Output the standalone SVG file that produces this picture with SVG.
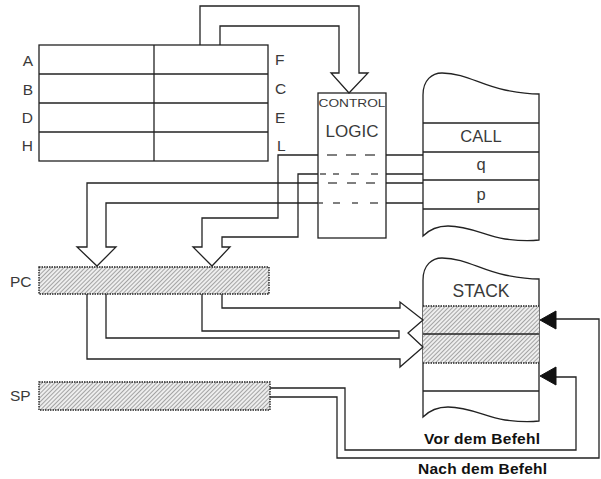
<svg xmlns="http://www.w3.org/2000/svg" width="601" height="479" viewBox="0 0 601 479">
<defs>
<pattern id="hatch" patternUnits="userSpaceOnUse" width="3" height="3" patternTransform="rotate(45)">
<rect width="3" height="3" fill="#eeeeee"/>
<line x1="0" y1="0" x2="0" y2="3" stroke="#666" stroke-width="1.1"/>
</pattern>
</defs>
<style>
.ln{fill:none;stroke:#222;stroke-width:1.3}
.box{fill:#fff;stroke:#222;stroke-width:1.3}
.hb{fill:url(#hatch);stroke:#222;stroke-width:1.4;stroke-dasharray:1.5 1}
.dot{fill:none;stroke:#222;stroke-width:1.4;stroke-dasharray:1.5 1}
.dash{fill:none;stroke:#555;stroke-width:1.3}
.t{font-family:"Liberation Sans",Arial,sans-serif;fill:#3a3a3a}
.b{font-family:"Liberation Sans",Arial,sans-serif;font-weight:bold;fill:#111;font-size:15.5px}
.tri{fill:#111;stroke:#111;stroke-width:1}
</style>
<rect width="601" height="479" fill="#fff"/>

<g id="registers">
<rect class="box" x="39" y="45" width="229" height="116"/>
<line class="ln" x1="39" y1="74" x2="268" y2="74"/>
<line class="ln" x1="39" y1="103" x2="268" y2="103"/>
<line class="ln" x1="39" y1="132" x2="268" y2="132"/>
<line class="ln" x1="154" y1="45" x2="154" y2="161"/>
<g class="t" font-size="15.5" text-anchor="end">
<text x="33" y="66">A</text>
<text x="33" y="95">B</text>
<text x="33" y="123">D</text>
<text x="33" y="151">H</text>
</g>
<g class="t" font-size="15.5">
<text x="275" y="65">F</text>
<text x="275" y="94">C</text>
<text x="275" y="123">E</text>
<text x="277" y="151">L</text>
</g>
</g>

<g id="control-logic">
<rect class="box" x="318" y="93" width="68" height="145"/>
<text class="t" x="318.5" y="107" font-size="11.5" textLength="67" lengthAdjust="spacingAndGlyphs" fill="#666">CONTROL</text>
<text class="t" x="352" y="137" font-size="17" text-anchor="middle">LOGIC</text>
<line class="dash" x1="327" y1="155" x2="378" y2="155" stroke-dasharray="10 9"/>
<line class="dash" x1="320" y1="174" x2="378" y2="174" stroke-dasharray="6 7 6 12 8 12 8"/>
<line class="dash" x1="328" y1="183" x2="378" y2="183" stroke-dasharray="9 10"/>
<line class="dash" x1="318" y1="203" x2="378" y2="203" stroke-dasharray="5 10 7 12 6 12 8"/>
</g>

<g id="memory">
<path class="box" d="M423,236 V95 C423,80 432,73 442,73 C465,73 480,85 505,90 C520,93 530,94 539,94 V240 C530,241 520,241 505,239 C485,236 470,226 448,226 C438,226 430,229 423,236 Z"/>
<line class="ln" x1="423" y1="123" x2="539" y2="123"/>
<line class="ln" x1="423" y1="152" x2="539" y2="152"/>
<line class="ln" x1="423" y1="180" x2="539" y2="180"/>
<line class="ln" x1="423" y1="209" x2="539" y2="209"/>
<text class="t" x="481" y="142" font-size="16.5" text-anchor="middle">CALL</text>
<text class="t" x="481" y="170" font-size="16.5" text-anchor="middle">q</text>
<text class="t" x="481" y="200" font-size="16.5" text-anchor="middle">p</text>
</g>

<g id="pc">
<rect class="hb" x="39" y="267" width="230" height="27"/>
<text class="t" x="10" y="287" font-size="15.5">PC</text>
</g>

<g id="sp">
<rect class="hb" x="39" y="382" width="231" height="28"/>
<text class="t" x="10" y="401" font-size="15.5">SP</text>
</g>

<g id="stack">
<path class="box" d="M423,417 V280 C423,265 432,258 442,258 C465,258 480,270 505,275 C520,278 530,279 539,279 V421 C530,422 520,422 505,420 C485,417 470,407 448,407 C438,407 430,410 423,417 Z"/>
<rect x="423" y="306" width="116" height="57" fill="url(#hatch)"/>
<line class="dot" x1="423" y1="306" x2="539" y2="306"/>
<line class="ln" x1="423" y1="334" x2="539" y2="334" stroke-width="1.5"/>
<line class="dot" x1="423" y1="363" x2="539" y2="363"/>
<line class="ln" x1="423" y1="391" x2="539" y2="391"/>
<text class="t" x="481" y="297" font-size="17.5" text-anchor="middle">STACK</text>
</g>

<g id="connectors">
<path class="ln" d="M200,45 V6 H359 V73 H368 L349,93 L331,73 H339 V26 H220 V45"/>
<line class="ln" x1="386" y1="155" x2="423" y2="155"/>
<line class="ln" x1="386" y1="174" x2="423" y2="174"/>
<line class="ln" x1="386" y1="183" x2="423" y2="183"/>
<line class="ln" x1="386" y1="203" x2="423" y2="203"/>
<path class="ln" d="M318,183 H87 V247 H77 L97,266 L116,247 H106 V203 H318"/>
<path class="ln" d="M318,155 H278 V218 H202 V247 H193 L212,266 L230,247 H222 V237 H298 V174 H318"/>
<path class="ln" d="M87,294 V359 H400 V367 L423,347 L408,333 L423,320 L400,302 V308 H222 V294"/>
<path class="ln" d="M106,294 V338 H399 V331 H202 V294"/>
<path class="ln" d="M270,388 H345 V450 H576 V377 H555"/>
<path class="ln" d="M270,397 H337 V458 H599 V319 H555"/>
<polygon class="tri" points="540,320 556,311 556,329"/>
<polygon class="tri" points="540,376 556,367 556,385"/>
</g>

<g id="captions">
<text class="b" x="424" y="444" textLength="116">Vor dem Befehl</text>
<text class="b" x="418" y="474" textLength="129">Nach dem Befehl</text>
</g>
</svg>
